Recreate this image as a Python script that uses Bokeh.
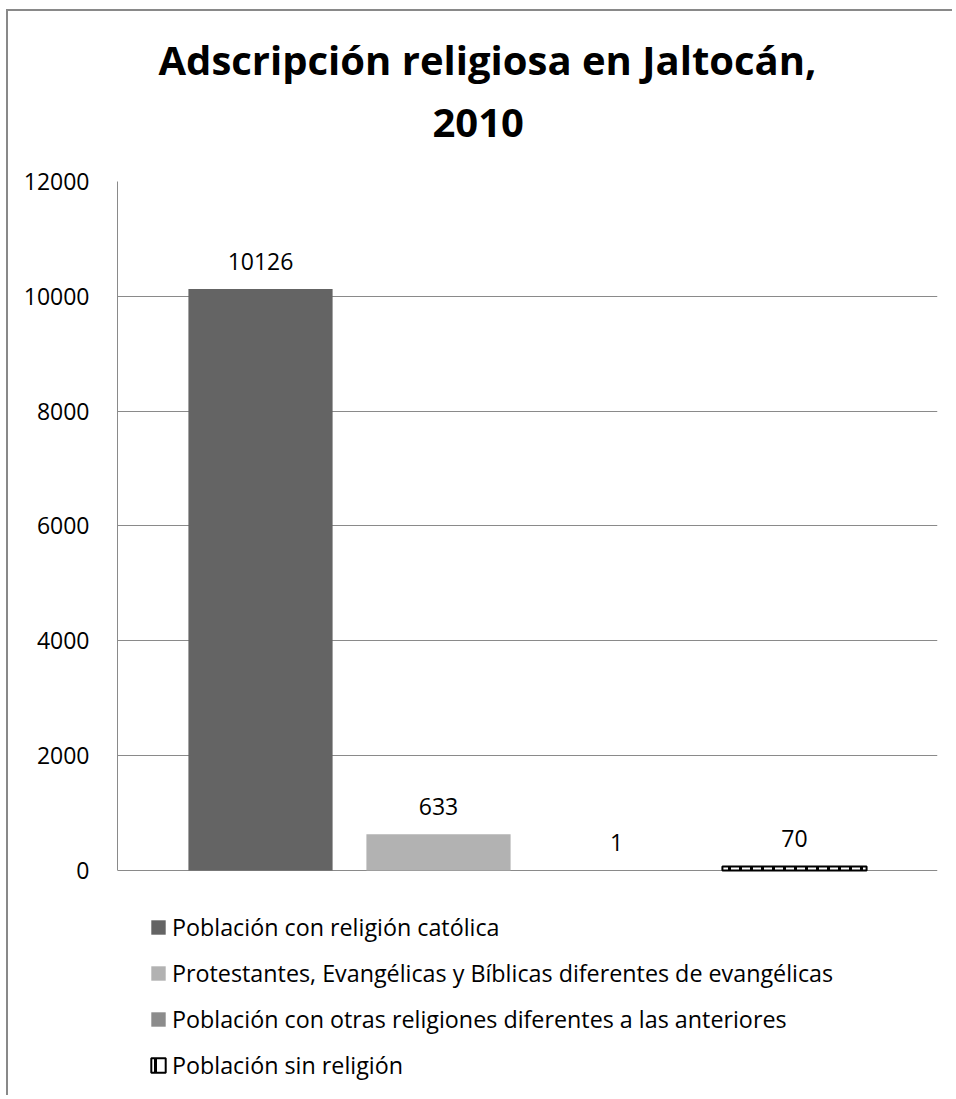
from bokeh.plotting import figure
from bokeh.models import (ColumnDataSource, FactorRange, Range1d, LabelSet, Legend,
                          LegendItem, Title, SingleIntervalTicker)
from bokeh.core.properties import value
from bokeh.embed import file_html
from bokeh.resources import INLINE

title_line1 = "Adscripción religiosa en Jaltocán,"
title_line2 = "2010"
categories = [
    "Población con religión católica",
    "Protestantes, Evangélicas y Bíblicas diferentes de evangélicas",
    "Población con otras religiones diferentes a las anteriores",
    "Población sin religión",
]
values = [10126, 633, 1, 70]
fill_colors = ["#646464", "#b2b2b2", "#8c8c8c", "#ffffff"]
line_alphas = [0.0, 0.0, 0.0, 1.0]
hatches = [" ", " ", " ", "|"]
y_max = 12000
y_step = 2000
y_floor = -3954   # space under the zero line that holds the legend

FONT = "Open Sans"
GRID = "#8a8a8a"

src = ColumnDataSource(dict(
    cat=categories, val=values, fill=fill_colors, la=line_alphas, hatch=hatches,
    txt=[str(v) for v in values],
))

p = figure(
    width=946, height=1086,
    x_range=FactorRange(factors=categories, range_padding=0.3034,
                        range_padding_units="absolute"),
    y_range=Range1d(y_floor, y_max),
    x_axis_location=None,
    output_backend="svg", toolbar_location=None,
    min_border_left=109, min_border_right=17, min_border_top=170, min_border_bottom=0,
)
p.styles = {"margin-left": "6px", "margin-top": "9px",
            "border-left": "2px solid #898989", "border-top": "2px solid #898989"}
p.outline_line_color = None
p.background_fill_color = "white"
p.border_fill_color = "white"

spacer = Title(text=" ", text_font=FONT, text_font_size="8px", standoff=15)
t2 = Title(text=title_line2, align="left", offset=315, text_font=FONT,
           text_font_size="40px", text_font_style="bold", text_color="black", standoff=34)
t1 = Title(text=title_line1, align="left", offset=41, text_font=FONT,
           text_font_size="40px", text_font_style="bold", text_color="black", standoff=5)
p.add_layout(spacer, "above")
p.add_layout(t2, "above")
p.add_layout(t1, "above")

r = p.vbar(x="cat", top="val", width=0.81, source=src, fill_color="fill",
           line_color="black", line_alpha="la", line_width=2,
           hatch_pattern="hatch", hatch_color="black", hatch_scale=11, hatch_weight=3)

p.xgrid.visible = False
p.ygrid.grid_line_color = GRID
p.ygrid.grid_line_width = 1
p.yaxis.ticker = SingleIntervalTicker(interval=y_step)
p.yaxis.bounds = (0, y_max)
p.yaxis.axis_line_color = GRID
p.yaxis.major_tick_line_color = None
p.yaxis.minor_tick_line_color = None
p.yaxis.major_tick_out = 0
p.yaxis.major_label_standoff = 24
p.yaxis.major_label_text_font = FONT
p.yaxis.major_label_text_font_size = "23px"
p.yaxis.major_label_text_color = "black"

labels = LabelSet(x="cat", y="val", text="txt", source=src, text_align="center",
                  text_baseline="alphabetic", y_offset=19, text_font=value(FONT),
                  text_font_size=value("23px"), text_color="black")
p.add_layout(labels)

items = [LegendItem(label=c, renderers=[r], index=i) for i, c in enumerate(categories)]
legend = Legend(items=items, location=(32, 16), orientation="vertical",
                label_text_font=FONT, label_text_font_size="23.3px", label_text_color="black",
                glyph_width=18, glyph_height=18, label_standoff=5, spacing=14,
                padding=0, margin=0, border_line_alpha=0, background_fill_alpha=0)
p.add_layout(legend, "center")

open("out.html", "w").write(file_html(p, INLINE))
